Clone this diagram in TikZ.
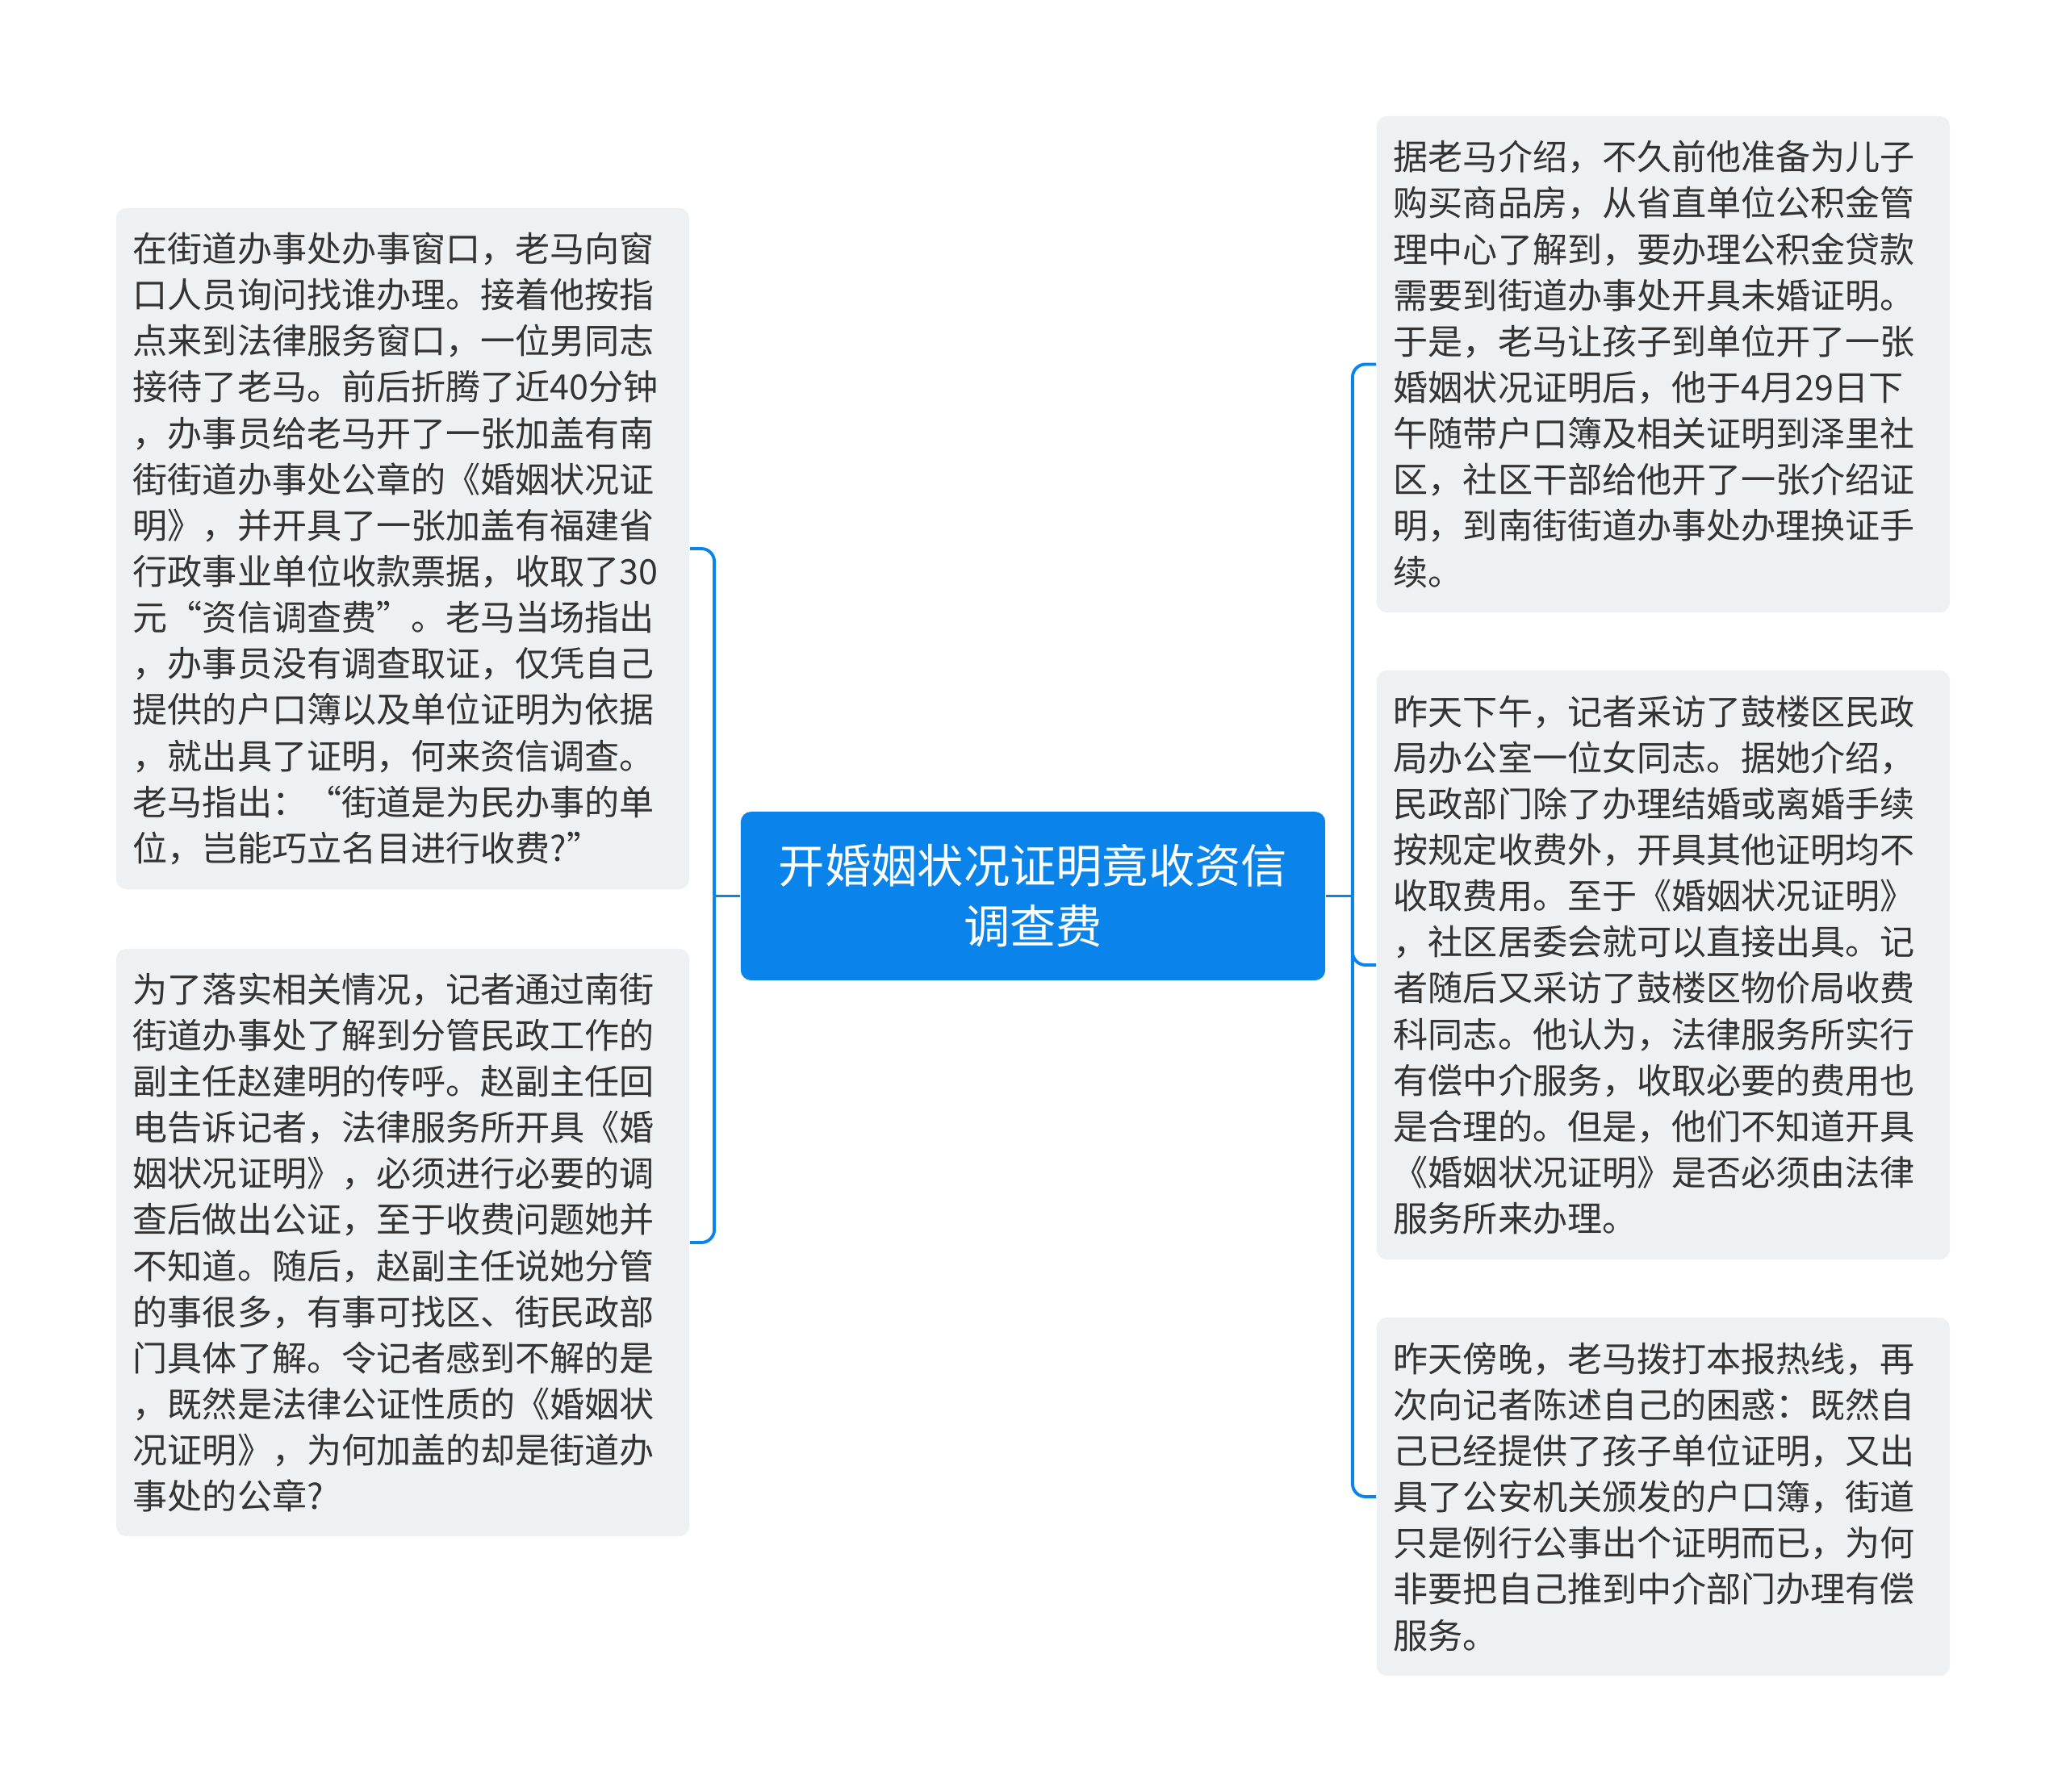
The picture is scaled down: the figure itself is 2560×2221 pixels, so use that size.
\documentclass[tikz,border=0pt]{standalone}
\usepackage{fontspec}
\setmainfont{Noto Sans CJK SC}
\usepackage{xcolor}
\usepackage{tikz}
\usetikzlibrary{positioning,calc}
\definecolor{cazul}{HTML}{0A84EA}
\definecolor{cfondo}{HTML}{EEF1F4}
\definecolor{ctexto}{HTML}{333333}

\begin{document}
\begin{tikzpicture}[x=0.01cm,y=-0.01cm,
  caja/.style={fill=cfondo,rounded corners=0.13cm,text=ctexto,text width=6.68cm,inner xsep=0.21cm,inner ysep=0pt,
    align=left,font=\fontsize{12.25pt}{16.25pt}\selectfont},
  central/.style={fill=cazul,rounded corners=0.13cm,text=white,align=center,minimum width=7.24cm,minimum height=2.09cm,
    font=\fontsize{16.3pt}{21.3pt}\selectfont},
  enlace/.style={draw=cazul,line width=1.1pt,rounded corners=0.16cm}]
  \useasboundingbox (0,0) rectangle (2560,2221);
  % tema central
  \node[central] (centro) at (1280,1110.5) {开婚姻状况证明竟收资信\\调查费};
  % ramas izquierdas
  \node[caja,minimum height=8.44cm] (izq1) at (499,680) {在街道办事处办事窗口，老马向窗\\口人员询问找谁办理。接着他按指\\点来到法律服务窗口，一位男同志\\接待了老马。前后折腾了近40分钟\\，办事员给老马开了一张加盖有南\\街街道办事处公章的《婚姻状况证\\明》，并开具了一张加盖有福建省\\行政事业单位收款票据，收取了30\\元“资信调查费”。老马当场指出\\，办事员没有调查取证，仅凭自己\\提供的户口簿以及单位证明为依据\\，就出具了证明，何来资信调查。\\老马指出：“街道是为民办事的单\\位，岂能巧立名目进行收费?”};
  \node[caja,minimum height=7.28cm] (izq2) at (499,1540) {为了落实相关情况，记者通过南街\\街道办事处了解到分管民政工作的\\副主任赵建明的传呼。赵副主任回\\电告诉记者，法律服务所开具《婚\\姻状况证明》，必须进行必要的调\\查后做出公证，至于收费问题她并\\不知道。随后，赵副主任说她分管\\的事很多，有事可找区、街民政部\\门具体了解。令记者感到不解的是\\，既然是法律公证性质的《婚姻状\\况证明》，为何加盖的却是街道办\\事处的公章?};
  % ramas derechas
  \node[caja,minimum height=6.15cm] (der1) at (2061,451.5) {据老马介绍，不久前他准备为儿子\\购买商品房，从省直单位公积金管\\理中心了解到，要办理公积金贷款\\需要到街道办事处开具未婚证明。\\于是，老马让孩子到单位开了一张\\婚姻状况证明后，他于4月29日下\\午随带户口簿及相关证明到泽里社\\区，社区干部给他开了一张介绍证\\明，到南街街道办事处办理换证手\\续。};
  \node[caja,minimum height=7.30cm] (der2) at (2061,1196) {昨天下午，记者采访了鼓楼区民政\\局办公室一位女同志。据她介绍，\\民政部门除了办理结婚或离婚手续\\按规定收费外，开具其他证明均不\\收取费用。至于《婚姻状况证明》\\，社区居委会就可以直接出具。记\\者随后又采访了鼓楼区物价局收费\\科同志。他认为，法律服务所实行\\有偿中介服务，收取必要的费用也\\是合理的。但是，他们不知道开具\\《婚姻状况证明》是否必须由法律\\服务所来办理。};
  \node[caja,minimum height=4.44cm] (der3) at (2061,1855) {昨天傍晚，老马拨打本报热线，再\\次向记者陈述自己的困惑：既然自\\己已经提供了孩子单位证明，又出\\具了公安机关颁发的户口簿，街道\\只是例行公事出个证明而已，为何\\非要把自己推到中介部门办理有偿\\服务。};
  % conectores
  \coordinate (uizq) at ($(centro.west)+(-32,0)$);
  \coordinate (uder) at ($(centro.east)+(33,0)$);
  \draw[enlace] (centro.west) -- (uizq);
  \draw[enlace] (uizq) |- (izq1.east);
  \draw[enlace] (uizq) |- (izq2.east);
  \draw[enlace] (centro.east) -- (uder);
  \draw[enlace] (uder) |- (der1.west);
  \draw[enlace] (uder) |- (der2.west);
  \draw[enlace] (uder) |- (der3.west);
\end{tikzpicture}
\end{document}
